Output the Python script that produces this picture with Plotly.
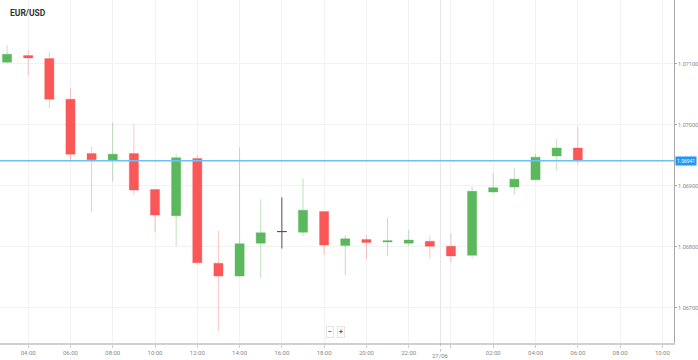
import plotly.graph_objects as go

# ---- data (EUR/USD hourly candles, 26/06 03:00 -> 27/06 06:00) ----
times = [
    "2023-06-26 03:00", "2023-06-26 04:00", "2023-06-26 05:00", "2023-06-26 06:00",
    "2023-06-26 07:00", "2023-06-26 08:00", "2023-06-26 09:00", "2023-06-26 10:00",
    "2023-06-26 11:00", "2023-06-26 12:00", "2023-06-26 13:00", "2023-06-26 14:00",
    "2023-06-26 15:00", "2023-06-26 16:00", "2023-06-26 17:00", "2023-06-26 18:00",
    "2023-06-26 19:00", "2023-06-26 20:00", "2023-06-26 21:00", "2023-06-26 22:00",
    "2023-06-26 23:00", "2023-06-27 00:00", "2023-06-27 01:00", "2023-06-27 02:00",
    "2023-06-27 03:00", "2023-06-27 04:00", "2023-06-27 05:00", "2023-06-27 06:00",
]
opens = [1.07103, 1.07114, 1.07109, 1.07042, 1.06953, 1.06942, 1.06953, 1.06894,
         1.06851, 1.06945, 1.06773, 1.06752, 1.06806, 1.06825, 1.06824, 1.06858,
         1.06802, 1.06812, 1.06808, 1.06806, 1.06809, 1.06801, 1.06786, 1.06890,
         1.06898, 1.06910, 1.06949, 1.06962]
highs = [1.07131, 1.07123, 1.07119, 1.07061, 1.06964, 1.07004, 1.07001, 1.06895,
         1.06952, 1.06950, 1.06826, 1.06963, 1.06878, 1.06881, 1.06912, 1.06859,
         1.06819, 1.06819, 1.06848, 1.06828, 1.06818, 1.06822, 1.06899, 1.06921,
         1.06929, 1.06953, 1.06977, 1.06997]
lows = [1.07101, 1.07081, 1.07028, 1.06942, 1.06857, 1.06907, 1.06885, 1.06824,
        1.06801, 1.06773, 1.06662, 1.06751, 1.06748, 1.06797, 1.06818, 1.06787,
        1.06753, 1.06780, 1.06785, 1.06801, 1.06780, 1.06774, 1.06781, 1.06888,
        1.06886, 1.06909, 1.06925, 1.06935]
closes = [1.07116, 1.07110, 1.07042, 1.06952, 1.06943, 1.06952, 1.06893, 1.06852,
          1.06946, 1.06774, 1.06752, 1.06805, 1.06823, 1.06825, 1.06860, 1.06803,
          1.06813, 1.06807, 1.06810, 1.06811, 1.06801, 1.06785, 1.06891, 1.06897,
          1.06911, 1.06947, 1.06962, 1.06941]

current_price = 1.06941
y_ticks = [1.06700, 1.06800, 1.06900, 1.07000, 1.07100]
x_tickvals = ["2023-06-26 04:00", "2023-06-26 06:00", "2023-06-26 08:00", "2023-06-26 10:00",
              "2023-06-26 12:00", "2023-06-26 14:00", "2023-06-26 16:00", "2023-06-26 18:00",
              "2023-06-26 20:00", "2023-06-26 22:00", "2023-06-27 00:00", "2023-06-27 02:00",
              "2023-06-27 04:00", "2023-06-27 06:00", "2023-06-27 08:00", "2023-06-27 10:00"]
x_ticktext = ["04:00", "06:00", "08:00", "10:00", "12:00", "14:00", "16:00", "18:00",
              "20:00", "22:00", "", "02:00", "04:00", "06:00", "08:00", "10:00"]
day_marker_x = "2023-06-26 23:30"
day_label = "27/06"

GREEN = "#5cb85c"
RED = "#fa5858"

main_idx = [i for i in range(len(times)) if opens[i] != closes[i]]
doji_idx = [i for i in range(len(times)) if opens[i] == closes[i]]

def pick(arr, idx):
    return [arr[i] for i in idx]

fig = go.Figure()
fig.add_trace(go.Candlestick(
    x=pick(times, main_idx), open=pick(opens, main_idx), high=pick(highs, main_idx),
    low=pick(lows, main_idx), close=pick(closes, main_idx),
    increasing=dict(fillcolor=GREEN, line=dict(color="rgba(92,184,92,0.40)", width=1)),
    decreasing=dict(fillcolor=RED, line=dict(color="rgba(250,88,88,0.35)", width=1)),
    hoverinfo="skip", showlegend=False,
))
fig.add_trace(go.Candlestick(
    x=pick(times, doji_idx), open=pick(opens, doji_idx), high=pick(highs, doji_idx),
    low=pick(lows, doji_idx), close=pick(closes, doji_idx),
    increasing=dict(fillcolor="#555555", line=dict(color="#555555", width=1)),
    decreasing=dict(fillcolor="#555555", line=dict(color="#555555", width=1)),
    hoverinfo="skip", showlegend=False,
))

# current price line
fig.add_hline(y=current_price, line=dict(color="#6cc0f5", width=1.5), layer="above")
# day separator
fig.add_vline(x=day_marker_x, line=dict(color="#e4e4e4", width=1), layer="below")
fig.add_shape(type="line", xref="x", yref="paper", x0=day_marker_x, x1=day_marker_x,
              y0=0, y1=-0.025, line=dict(color="#bbbbbb", width=1, dash="dot"))

fig.add_annotation(xref="paper", yref="y", x=1.0, y=current_price, xanchor="left",
                   yanchor="middle", xshift=1, text=f"{current_price:.5f}", showarrow=False,
                   bgcolor="#2196f3", font=dict(color="white", size=5, family="Roboto"),
                   borderpad=1)
fig.add_annotation(xref="x", yref="paper", x=day_marker_x, y=0, yshift=-12,
                   xanchor="center", yanchor="middle", text=day_label, showarrow=False,
                   font=dict(color="#888888", size=6, family="Roboto"))
fig.add_annotation(xref="paper", yref="paper", x=0.0, y=1.0, xshift=8, yshift=-6,
                   xanchor="left", yanchor="top", text="<b>EUR/USD</b>", showarrow=False,
                   font=dict(color="#333333", size=8.5, family="Roboto"))
for xs, t in [(326, "\u2212"), (337, "+")]:
    fig.add_annotation(xref="paper", yref="paper", x=0, y=0, xshift=xs, yshift=11,
                       xanchor="left", yanchor="middle", text=f"<b>{t}</b>", showarrow=False,
                       bgcolor="white", bordercolor="#e4e4e4", borderwidth=1, borderpad=1,
                       font=dict(color="#555555", size=7, family="Roboto"))

fig.update_layout(
    width=698, height=360,
    margin=dict(l=0, r=24, t=0, b=17),
    paper_bgcolor="white", plot_bgcolor="white",
    boxgap=0.38,
    font=dict(family="Roboto", color="#777777", size=6),
    xaxis=dict(
        range=["2023-06-26 02:40", "2023-06-27 10:33"],
        rangeslider=dict(visible=False),
        tickvals=x_tickvals, ticktext=x_ticktext,
        showgrid=True, gridcolor="#f2f2f2", gridwidth=1,
        showline=True, linecolor="#d0d0d0", linewidth=2,
        ticks="outside", ticklen=3, tickcolor="#d0d0d0",
        tickfont=dict(size=6, color="#888888"),
        zeroline=False, fixedrange=True, automargin=False,
    ),
    yaxis=dict(
        side="right", range=[1.066421, 1.07205],
        tickvals=y_ticks, tickformat=".5f",
        showgrid=True, gridcolor="#f2f2f2", gridwidth=1,
        showline=True, linecolor="#a8a8a8", linewidth=1,
        ticks="outside", ticklen=2, tickcolor="#a8a8a8",
        tickfont=dict(size=5.5, color="#888888"),
        zeroline=False, fixedrange=True, automargin=False,
    ),
)

fig.write_html("out.html", config={"displayModeBar": False},
               post_script="document.body.style.margin='0';document.body.style.padding='0';")
